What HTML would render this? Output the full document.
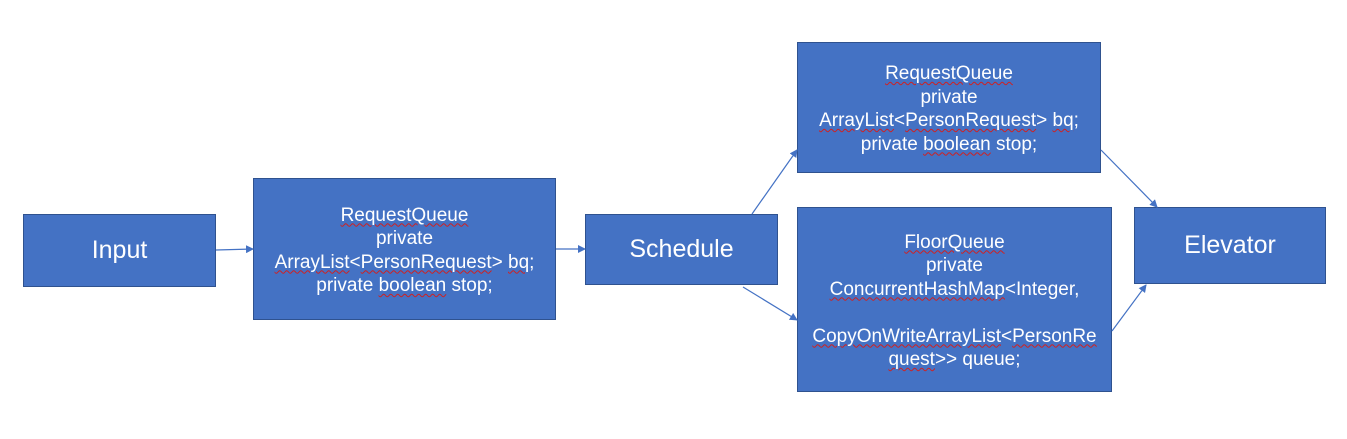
<!DOCTYPE html>
<html><head><meta charset="utf-8"><style>
body{margin:0;width:1347px;height:439px;background:#fff;position:relative;overflow:hidden;font-family:"Liberation Sans","Noto Sans CJK SC",sans-serif}
.b{position:absolute;box-sizing:border-box;background:#4472C4;border:1px solid #2F528F;color:#fff;display:flex;align-items:center;justify-content:center;text-align:center}
.s{font-size:19px;line-height:23.5px}
.l{font-size:25px}
u{text-decoration:underline wavy #d02020;text-decoration-thickness:1px;text-underline-offset:2px}
svg{position:absolute;left:0;top:0}
</style></head><body>
<div class="b l" style="left:23px;top:214px;width:193px;height:73px">Input</div>
<div class="b s" style="left:253px;top:178px;width:303px;height:142px"><div style="margin-top:3px"><u>RequestQueue</u><br>private<br><u>ArrayList</u>&lt;<u>PersonRequest</u>&gt; <u>bq</u>;<br>private <u>boolean</u> stop;</div></div>
<div class="b l" style="left:585px;top:214px;width:193px;height:71px">Schedule</div>
<div class="b s" style="left:797px;top:42px;width:304px;height:131px"><div style="margin-top:3px"><u>RequestQueue</u><br>private<br><u>ArrayList</u>&lt;<u>PersonRequest</u>&gt; <u>bq</u>;<br>private <u>boolean</u> stop;</div></div>
<div class="b s" style="left:797px;top:207px;width:315px;height:185px"><div style="margin-top:3px"><u>FloorQueue</u><br>private<br><u>ConcurrentHashMap</u>&lt;Integer,<br><br><u>CopyOnWriteArrayList</u>&lt;<u>PersonRe</u><br><u>quest</u>&gt;&gt; queue;</div></div>
<div class="b l" style="left:1134px;top:207px;width:192px;height:77px">Elevator</div>
<svg width="1347" height="439">
<defs><marker id="a" markerWidth="8" markerHeight="8" refX="7" refY="4" orient="auto" markerUnits="userSpaceOnUse"><path d="M0,0 L8,4 L0,8z" fill="#4472C4"/></marker></defs>
<g stroke="#4472C4" stroke-width="1.2" marker-end="url(#a)">
<line x1="216" y1="250" x2="253" y2="249"/>
<line x1="556" y1="249" x2="585" y2="249"/>
<line x1="752" y1="214" x2="797" y2="150"/>
<line x1="743" y1="287" x2="797" y2="320"/>
<line x1="1101" y1="150" x2="1157" y2="207"/>
<line x1="1112" y1="331" x2="1146" y2="285"/>
</g></svg>
</body></html>
